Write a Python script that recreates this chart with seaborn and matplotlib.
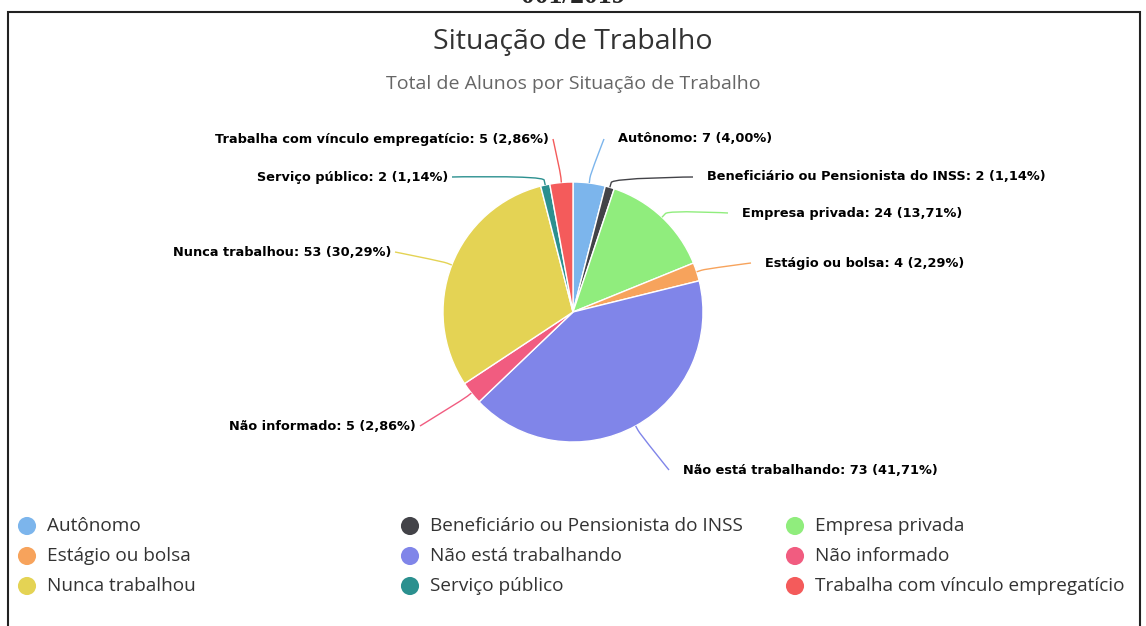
import numpy as np
import matplotlib
matplotlib.use("Agg")
import matplotlib.pyplot as plt
from matplotlib.path import Path
from matplotlib.patches import PathPatch, Rectangle
import seaborn as sns

# data
categories = [
    "Autônomo",
    "Beneficiário ou Pensionista do INSS",
    "Empresa privada",
    "Estágio ou bolsa",
    "Não está trabalhando",
    "Não informado",
    "Nunca trabalhou",
    "Serviço público",
    "Trabalha com vínculo empregatício",
]
counts = [7, 2, 24, 4, 73, 5, 53, 2, 5]
hex_colors = ["#7cb5ec", "#434348", "#90ed7d", "#f7a35c", "#8085e9",
              "#f15c80", "#e4d354", "#2b908f", "#f45b5b"]

title = "Situação de Trabalho"
subtitle = "Total de Alunos por Situação de Trabalho"
header = "001/2019"

# layout (pixel coords, y from top)
W, H = 1146, 626
center_px = (573, 312)
radius = 130
label_pos = [
    (618, 139, "left"),
    (707, 177, "left"),
    (742, 213, "left"),
    (765, 263, "left"),
    (683, 470, "left"),
    (416, 426, "right"),
    (391, 252, "right"),
    (448, 177, "right"),
    (549, 139, "right"),
]
angle_override = {6: 158.8}

sns.set_theme(style="white")
plt.rcParams["font.family"] = ["DejaVu Sans"]
palette = sns.color_palette(hex_colors)
ui_font = ["Open Sans", "DejaVu Sans"]


def py(y):
    return H - y


fig = plt.figure(figsize=(W / 100, H / 100), dpi=100)
ax = fig.add_axes([0, 0, 1, 1])

wedges, _ = ax.pie(
    counts,
    colors=palette,
    startangle=90,
    counterclock=False,
    center=(center_px[0], py(center_px[1])),
    radius=radius,
    wedgeprops=dict(edgecolor="white", linewidth=1),
)
ax.set_xlim(0, W)
ax.set_ylim(0, H)
ax.set_aspect("auto")
ax.axis("off")

# data labels with soft connectors
total = sum(counts)
c = np.array([center_px[0], py(center_px[1])])
for i, (w, name, v) in enumerate(zip(wedges, categories, counts)):
    ang = angle_override.get(i, (w.theta1 + w.theta2) / 2)
    d = np.array([np.cos(np.radians(ang)), np.sin(np.radians(ang))])
    edge = c + radius * d
    brk = c + (radius + 5) * d
    ctrl = 2 * brk - edge
    lx, ly, ha = label_pos[i]
    start = (lx - 14, py(ly)) if ha == "left" else (lx + 4, py(ly))
    path = Path([start, start, tuple(ctrl), tuple(brk), tuple(edge)],
                [Path.MOVETO, Path.CURVE4, Path.CURVE4, Path.CURVE4, Path.LINETO])
    ax.add_patch(PathPatch(path, fc="none", ec=palette[i], lw=1))
    pct = f"{v / total * 100:.2f}".replace(".", ",")
    ax.text(lx, py(ly), f"{name}: {v} ({pct}%)", ha=ha, va="center",
            fontsize=9.3, fontweight="bold", color="black")

# titles
ax.text(573, py(42), title, ha="center", va="center", fontsize=20.5,
        color="#333333", family=ui_font)
ax.text(573, py(84), subtitle, ha="center", va="center", fontsize=14,
        color="#666666", family=ui_font)

# legend
col_x = [27, 410, 795]
row_y = [526, 556, 586]
for i, name in enumerate(categories):
    x = col_x[i % 3]
    y = row_y[i // 3]
    ax.scatter([x], [py(y)], s=170, color=palette[i], edgecolor="none")
    ax.text(x + 20, py(y), name, ha="left", va="center", fontsize=13.7,
            color="#333333", family=ui_font)

# frame around chart and the cut header above it (page crop)
ax.add_patch(Rectangle((8, -10), 1132, py(12) + 10, fill=False,
                       ec="#222222", lw=1.5))
ax.text(573, py(3), header, ha="center", va="baseline", fontsize=20,
        fontweight="bold", family=["Liberation Serif", "DejaVu Serif"])

fig.savefig("out.png", dpi=100)
